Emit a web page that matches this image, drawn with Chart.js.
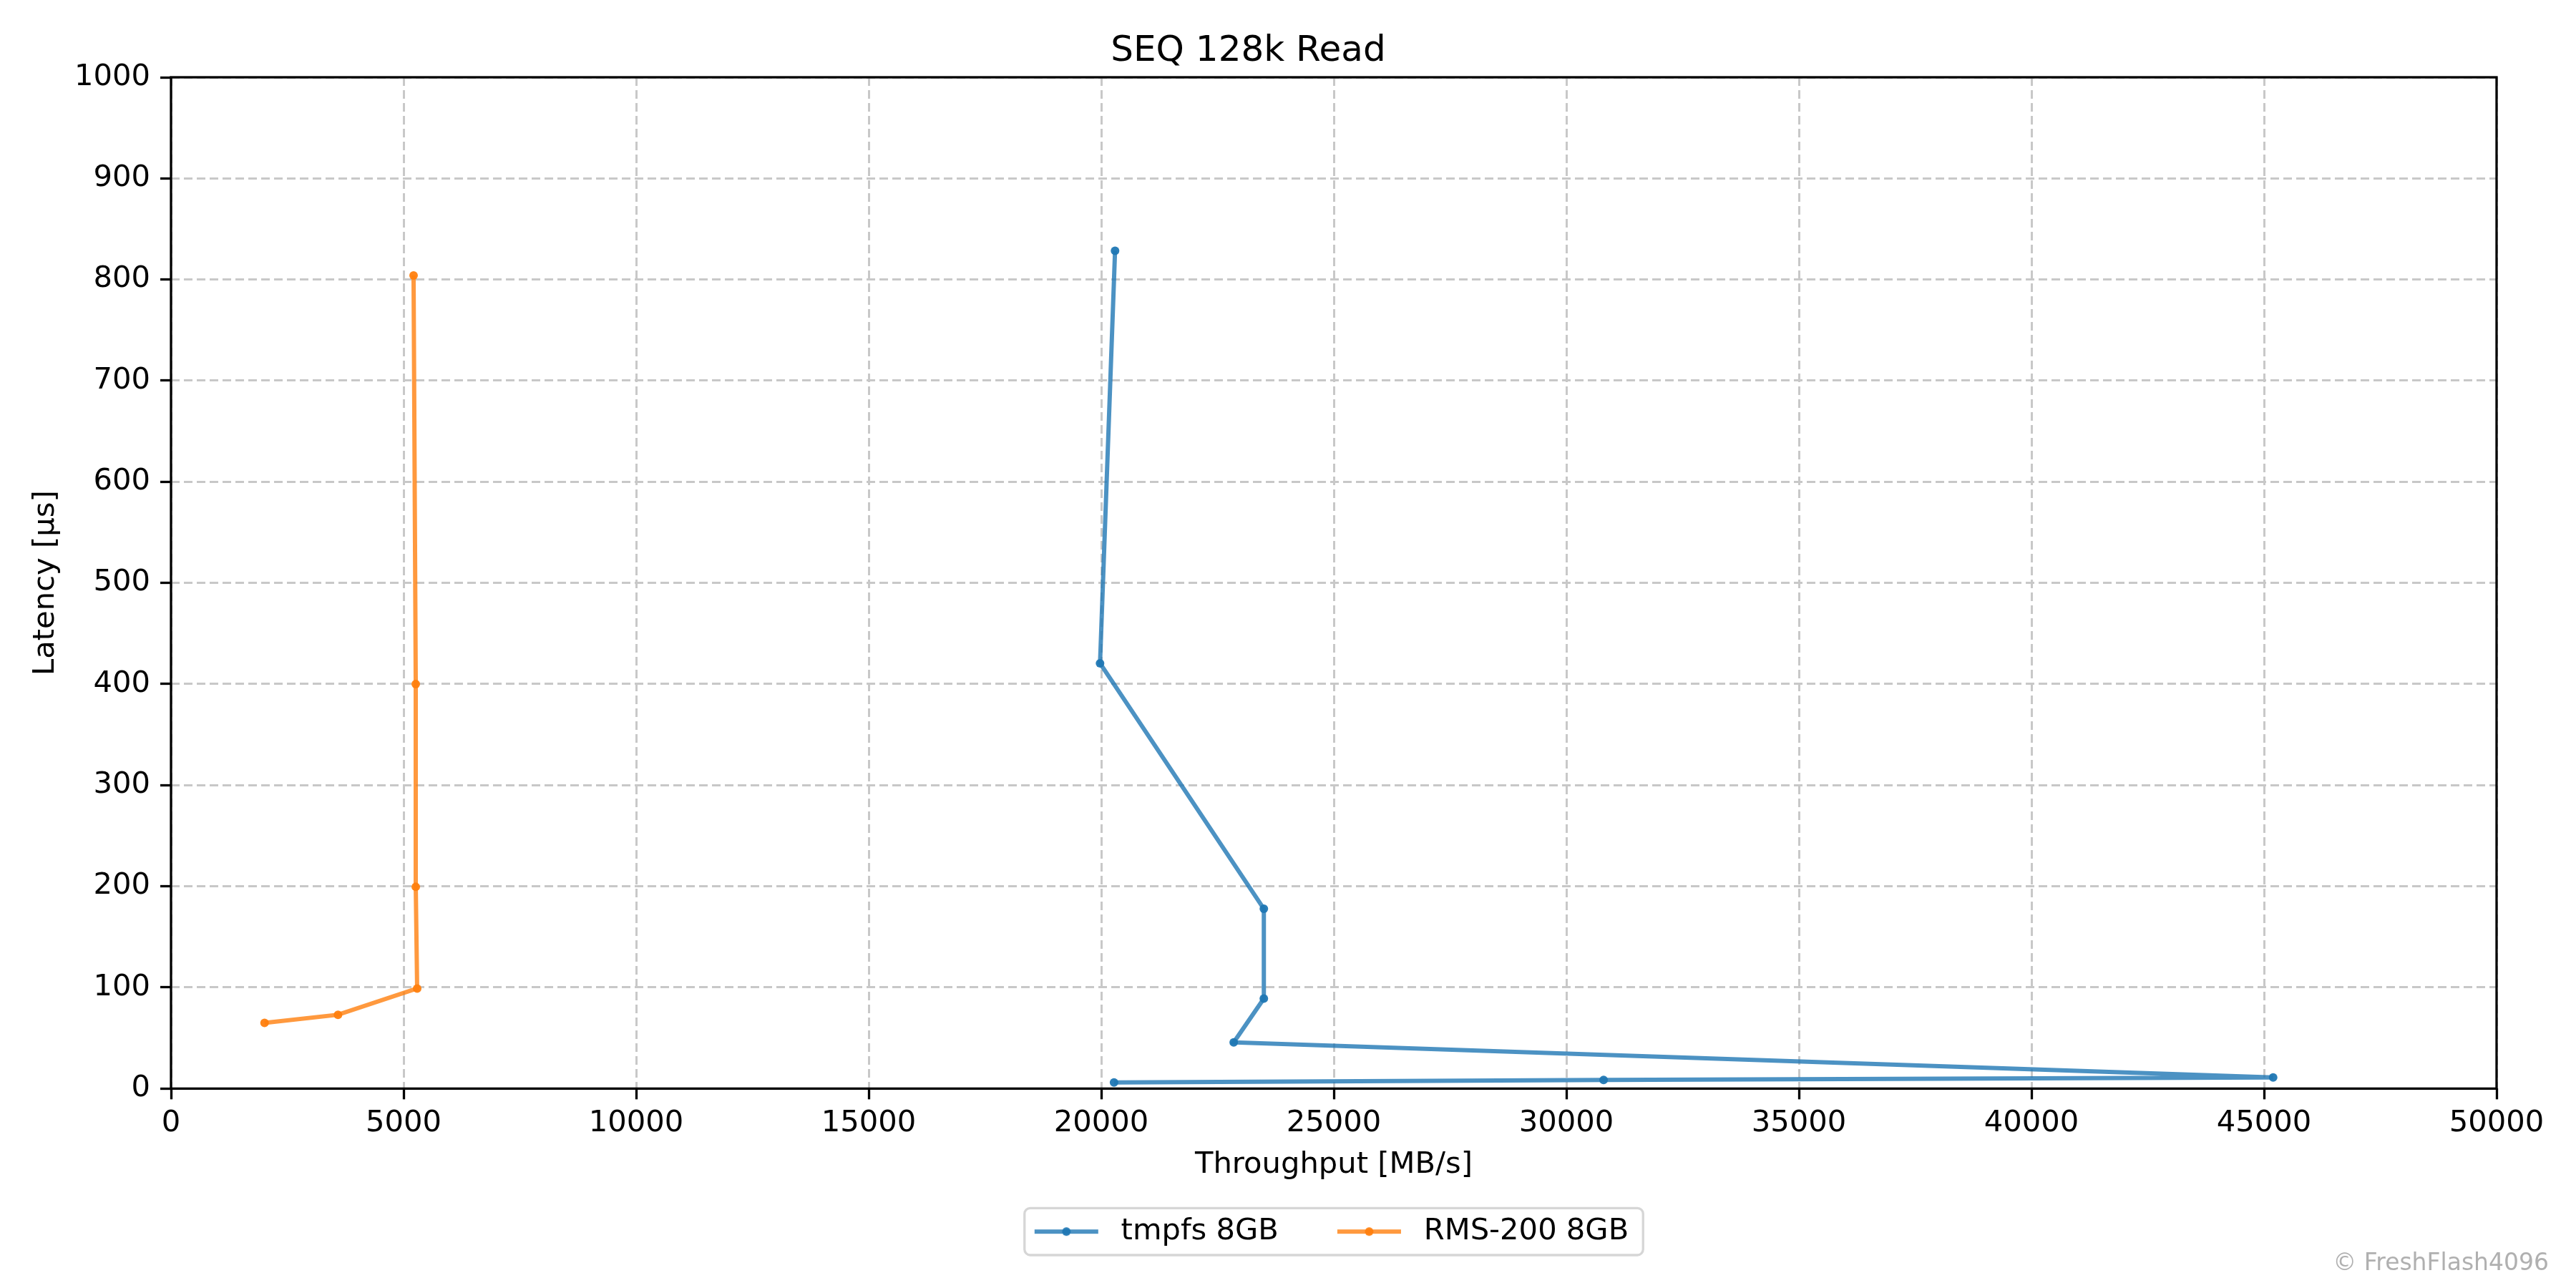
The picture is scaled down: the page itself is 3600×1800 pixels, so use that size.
<!DOCTYPE html>
<html>
<head>
<meta charset="utf-8">
<title>SEQ 128k Read</title>
<script src="https://cdn.jsdelivr.net/npm/chart.js@4/dist/chart.umd.min.js"></script>
<style>
  html, body { margin: 0; padding: 0; background: #fff; }
  #wrap { width: 3600px; height: 1800px; }
</style>
</head>
<body>
<div id="wrap"><canvas id="grafico" width="3600" height="1800"></canvas></div>
<script>
// Datos (orden = profundidad de cola)
var tmpfsThroughput = [20297, 19974, 23496, 23496, 22848, 45196, 30801, 20275];
var tmpfsLatency    = [828.5, 420.6, 177.8, 89, 45.7, 11, 8.5, 6.1];
var rmsThroughput   = [5215, 5262, 5262, 5292, 3590, 2011];
var rmsLatency      = [804, 400, 199.5, 99, 73, 65];

var seriesLabels = ['tmpfs 8GB', 'RMS-200 8GB'];
var xTicks = { min: 0, max: 50000, step: 5000 };
var yTicks = { min: 0, max: 1000, step: 100 };

var azul = 'rgba(31,119,180,0.8)';
var naranja = 'rgba(255,127,14,0.8)';
var azulPunto = 'rgba(31,119,180,0.95)';
var naranjaPunto = 'rgba(255,127,14,0.95)';

function puntos(xs, ys) {
  return xs.map(function (x, i) { return { x: x, y: ys[i] }; });
}

// Muestra de la leyenda: línea con marcador en el centro
function muestra(color, punto) {
  var c = document.createElement('canvas');
  c.width = 142; c.height = 20;
  var g = c.getContext('2d');
  g.strokeStyle = color; g.lineWidth = 6;
  g.beginPath(); g.moveTo(42, 10); g.lineTo(131, 10); g.stroke();
  g.fillStyle = punto;
  g.beginPath(); g.arc(86.5, 10, 6, 0, Math.PI * 2); g.fill();
  return c;
}
var muestras = [muestra(azul, azulPunto), muestra(naranja, naranjaPunto)];

Chart.defaults.font.family = 'DejaVu Sans';
Chart.defaults.font.size = 41.67;
Chart.defaults.color = '#000';

// Marco negro alrededor del área, recuadro de la leyenda y firma
var marco = {
  id: 'marco',
  afterUpdate: function (chart) {
    var lg = chart.legend;
    if (!lg) return;
    lg.left -= 24; lg.right -= 24;
    (lg.legendHitBoxes || []).forEach(function (h) { h.left -= 24; });
  },
  afterDraw: function (chart) {
    var ctx = chart.ctx, a = chart.chartArea;
    ctx.save();
    ctx.strokeStyle = '#000';
    ctx.lineWidth = 3.3;
    ctx.strokeRect(a.left, a.top, a.right - a.left, a.bottom - a.top);

    var hb = chart.legend && chart.legend.legendHitBoxes;
    if (hb && hb.length) {
      var l = Infinity, r = -Infinity, t = Infinity, b = -Infinity;
      hb.forEach(function (h) {
        l = Math.min(l, h.left); r = Math.max(r, h.left + h.width);
        t = Math.min(t, h.top); b = Math.max(b, h.top + h.height);
      });
      var x0 = l + 28, x1 = r + 20, y0 = t - 12, y1 = b + 12;
      ctx.strokeStyle = '#d6d6d6';
      ctx.lineWidth = 3.3;
      ctx.beginPath();
      if (ctx.roundRect) ctx.roundRect(x0, y0, x1 - x0, y1 - y0, 8);
      else ctx.rect(x0, y0, x1 - x0, y1 - y0);
      ctx.stroke();
    }

    ctx.fillStyle = '#b0b0b0';
    ctx.font = '33px "DejaVu Sans"';
    ctx.textAlign = 'right';
    ctx.textBaseline = 'alphabetic';
    ctx.fillText('\u00a9 FreshFlash4096', 3562, 1775);
    ctx.restore();
  }
};

var ejeBase = function (rango, titulo, tituloPad, pad) {
  return {
    type: 'linear',
    min: rango.min,
    max: rango.max,
    ticks: {
      stepSize: rango.step,
      padding: pad,
      color: '#000',
      callback: function (v) { return String(v); }
    },
    grid: {
      color: '#c8c8c8',
      lineWidth: 3,
      tickColor: '#000',
      tickWidth: 3.3,
      tickLength: 15,
      tickBorderDash: []
    },
    border: { display: false, dash: [12, 6] },
    title: { display: true, text: titulo, color: '#000', padding: tituloPad }
  };
};

var ejeX = ejeBase(xTicks, 'Throughput [MB/s]', { top: 0, bottom: 7 }, 9);
ejeX.afterFit = function (s) { s.height = 139; };
var ejeY = ejeBase(yTicks, 'Latency [\u00b5s]', { top: 39, bottom: 0 }, 14);
ejeY.afterFit = function (s) { s.width = 239; };

new Chart(document.getElementById('grafico').getContext('2d'), {
  type: 'scatter',
  data: {
    datasets: [
      {
        label: seriesLabels[0],
        data: puntos(tmpfsThroughput, tmpfsLatency),
        showLine: true,
        borderColor: azul,
        backgroundColor: azulPunto,
        borderWidth: 6,
        pointRadius: 6,
        pointBorderWidth: 0,
        pointBackgroundColor: azulPunto
      },
      {
        label: seriesLabels[1],
        data: puntos(rmsThroughput, rmsLatency),
        showLine: true,
        borderColor: naranja,
        backgroundColor: naranjaPunto,
        borderWidth: 6,
        pointRadius: 6,
        pointBorderWidth: 0,
        pointBackgroundColor: naranjaPunto
      }
    ]
  },
  options: {
    responsive: false,
    animation: false,
    devicePixelRatio: 1,
    layout: { padding: { top: 0, right: 111, bottom: 48, left: 0 } },
    scales: { x: ejeX, y: ejeY },
    plugins: {
      title: {
        display: true,
        text: 'SEQ 128k Read',
        color: '#000',
        font: { size: 50, weight: 'normal' },
        padding: { top: 42, bottom: 6 }
      },
      legend: {
        position: 'bottom',
        fullSize: false,
        labels: {
          color: '#000',
          padding: 40,
          usePointStyle: true,
          pointStyleWidth: 142,
          generateLabels: function (chart) {
            return chart.data.datasets.map(function (ds, i) {
              return { text: ds.label, pointStyle: muestras[i], datasetIndex: i, hidden: false, lineWidth: 0 };
            });
          }
        }
      },
      tooltip: { enabled: false }
    }
  },
  plugins: [marco]
});
</script>
</body>
</html>
